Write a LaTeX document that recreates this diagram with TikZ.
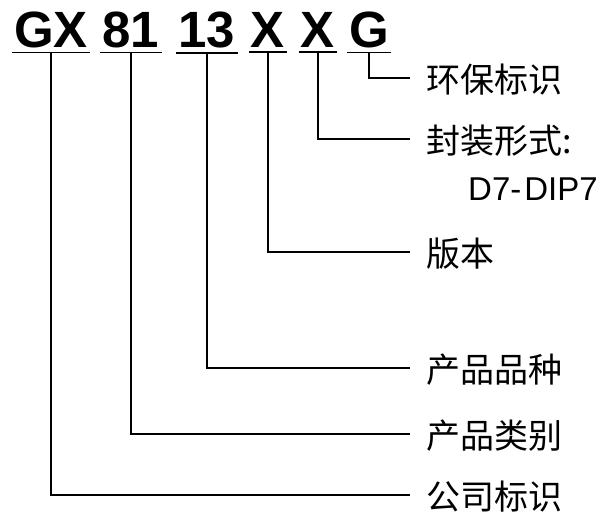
\documentclass[tikz,border=0pt]{standalone}
\usepackage{fontspec}
\setmainfont{Liberation Sans}
\newfontfamily\cjk{Noto Sans CJK SC}
\usetikzlibrary{positioning}

\tikzset{
	code/.style={font=\fontsize{51}{60}\bfseries\selectfont, anchor=base, inner xsep=2pt, inner ysep=5pt},
	lbl/.style={font=\fontsize{34}{40}\cjk\selectfont, anchor=west, inner xsep=16pt, inner ysep=0pt},
	wire/.style={line width=1.5pt}
}

\begin{document}
\begin{tikzpicture}[x=1pt, y=-1pt]
	\useasboundingbox (0,0) rectangle (611,515);
	% the code letters
	\node[code] (gx) at (51,47) {GX};
	\node[code] (c81) at (131,47) {81};
	\node[code] (c13) at (207,47) {13};
	\node[code] (xa) at (268,47) {X};
	\node[code] (xb) at (318,47) {X};
	\node[code] (g) at (369,47) {G};
	% the meanings
	\node[lbl] (env) at (410,80) {环保标识};
	\node[lbl] (pkg) at (410,141) {封装形式:};
	\node[font=\fontsize{33}{40}\selectfont, anchor=west, inner sep=0pt] (dip) at (468,189) {D7-\kern3pt DIP7};
	\node[lbl] (ver) at (410,254) {版本};
	\node[lbl] (kind) at (410,370) {产品品种};
	\node[lbl] (cat) at (410,436) {产品类别};
	\node[lbl] (comp) at (410,497) {公司标识};
	% underlines
	\foreach \c in {gx,c81,c13,xa,xb,g}
		\draw[wire] (\c.south west) -- (\c.south east);
	% connectors
	\draw[wire] (g.south) |- ([yshift=2pt]env.west);
	\draw[wire] (xb.south) |- ([yshift=2pt]pkg.west);
	\draw[wire] (xa.south) |- ([yshift=2pt]ver.west);
	\draw[wire] (c13.south) |- ([yshift=2pt]kind.west);
	\draw[wire] (c81.south) |- ([yshift=2pt]cat.west);
	\draw[wire] (gx.south) |- ([yshift=2pt]comp.west);
\end{tikzpicture}
\end{document}
